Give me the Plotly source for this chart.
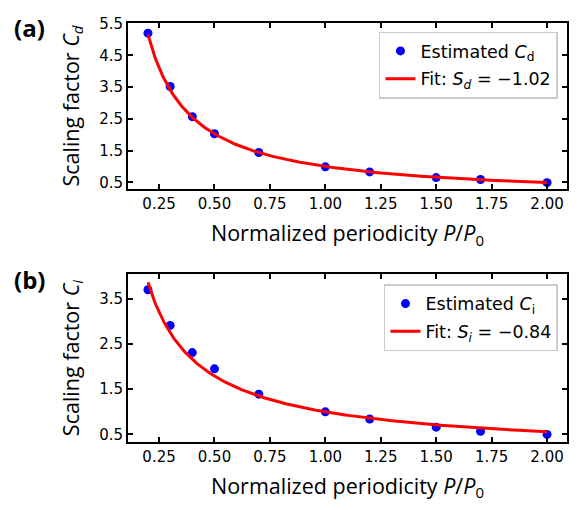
import numpy as np
import plotly.graph_objects as go

# Normalized periodicity P/P0 of the sampled structures
periodicity = [0.2, 0.3, 0.4, 0.5, 0.7, 1.0, 1.2, 1.5, 1.7, 2.0]
# Estimated scaling factors
c_d = [5.20, 3.52, 2.57, 2.03, 1.44, 0.99, 0.83, 0.65, 0.59, 0.49]
c_i = [3.70, 2.91, 2.31, 1.95, 1.39, 1.00, 0.84, 0.66, 0.57, 0.50]
# Power-law exponents of the fits C = (P/P0)^S
s_d = -1.02
s_i = -0.84

x_ticks = [0.25, 0.50, 0.75, 1.00, 1.25, 1.50, 1.75, 2.00]
y_ticks_a = [0.5, 1.5, 2.5, 3.5, 4.5, 5.5]
y_ticks_b = [0.5, 1.5, 2.5, 3.5]

x_fit = np.linspace(min(periodicity), max(periodicity), 300)

TICK_FONT = dict(family="DejaVu Sans", size=15, color="black")
LABEL_FONT = dict(family="Open Sans", size=21.5, color="black")
LEG_FONT = dict(family="DejaVu Sans", size=17.5, color="black")

fig = go.Figure()

fig.add_trace(go.Scatter(
    x=periodicity, y=c_d, mode="markers", name="Estimated <i>C</i><sub>d</sub>",
    marker=dict(color="#0000ff", size=9), xaxis="x", yaxis="y",
    legend="legend", legendgroup="a1"))
fig.add_trace(go.Scatter(
    x=x_fit, y=x_fit ** s_d, mode="lines",
    name=f"Fit: <i>S<sub>d</sub></i> = \u2212{abs(s_d):.2f}",
    line=dict(color="#ff0000", width=3), xaxis="x", yaxis="y",
    legend="legend", legendgroup="a2"))

fig.add_trace(go.Scatter(
    x=periodicity, y=c_i, mode="markers", name="Estimated <i>C</i><sub>i</sub>",
    marker=dict(color="#0000ff", size=9), xaxis="x2", yaxis="y2",
    legend="legend2", legendgroup="b1"))
fig.add_trace(go.Scatter(
    x=x_fit, y=x_fit ** s_i, mode="lines",
    name=f"Fit: <i>S<sub>i</sub></i> = \u2212{abs(s_i):.2f}",
    line=dict(color="#ff0000", width=3), xaxis="x2", yaxis="y2",
    legend="legend2", legendgroup="b2"))

common_axis = dict(
    showline=True, linecolor="black", linewidth=2, mirror="ticks",
    ticks="inside", ticklen=5, tickwidth=1.5, tickcolor="black",
    showgrid=False, zeroline=False, tickfont=TICK_FONT,
)

x_title = dict(text="Normalized periodicity <i>P</i>/<i>P</i><sub>0</sub>",
               font=LABEL_FONT, standoff=14)

fig.update_layout(
    width=580, height=510, autosize=False,
    margin=dict(l=0, r=0, t=0, b=0),
    paper_bgcolor="white", plot_bgcolor="white",
    xaxis=dict(domain=[0.2207, 0.9776], anchor="y", range=[0.11, 2.09],
               tickvals=x_ticks, ticktext=[f"{v:.2f}" for v in x_ticks],
               title=x_title, **common_axis),
    yaxis=dict(domain=[0.6373, 0.9706], anchor="x", range=[0.28, 5.53],
               tickvals=y_ticks_a, ticktext=[f"{v:.1f}" for v in y_ticks_a],
               title=dict(text="Scaling factor <i>C<sub>d</sub></i>",
                          font=LABEL_FONT, standoff=14),
               **common_axis),
    xaxis2=dict(domain=[0.2207, 0.9776], anchor="y2", range=[0.11, 2.09],
                tickvals=x_ticks, ticktext=[f"{v:.2f}" for v in x_ticks],
                title=x_title, **common_axis),
    yaxis2=dict(domain=[0.1327, 0.4673], anchor="x2", range=[0.34, 4.04],
                tickvals=y_ticks_b, ticktext=[f"{v:.1f}" for v in y_ticks_b],
                title=dict(text="Scaling factor <i>C<sub>i</sub></i>",
                           font=LABEL_FONT, standoff=14),
                **common_axis),
    legend=dict(x=0.962, y=0.953, xanchor="right", yanchor="top",
                bgcolor="rgba(255,255,255,0.8)", bordercolor="#cccccc",
                borderwidth=1.5, font=LEG_FONT, tracegroupgap=2),
    legend2=dict(x=0.962, y=0.4476, xanchor="right", yanchor="top",
                 bgcolor="rgba(255,255,255,0.8)", bordercolor="#cccccc",
                 borderwidth=1.5, font=LEG_FONT, tracegroupgap=2),
)

# Panel letters, placed in pixel terms and converted to paper fractions
W, H = 580, 510
for letter, px, py in [("(a)", 12, 20), ("(b)", 12, 277)]:
    fig.add_annotation(
        text=f"<b>{letter}</b>", x=px / W, y=1 - py / H,
        xref="paper", yref="paper", xanchor="left", yanchor="middle",
        showarrow=False, font=dict(family="Open Sans", size=24, color="black"))

fig.write_html("out.html")
